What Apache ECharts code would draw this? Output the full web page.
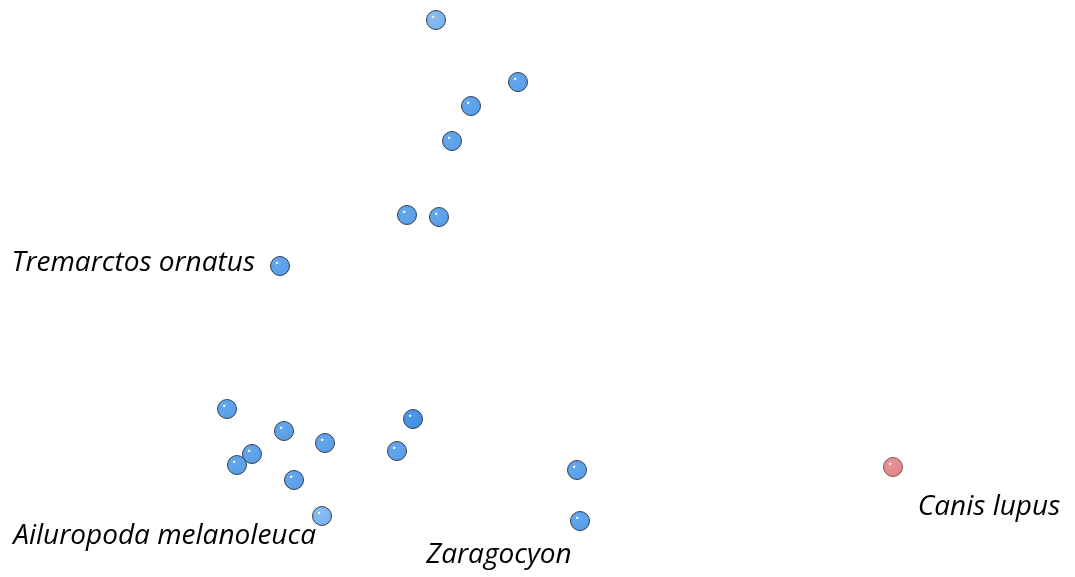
<!DOCTYPE html>
<html>
<head>
<meta charset="utf-8">
<style>
  html, body { margin: 0; padding: 0; background: #fff; }
  #main { width: 1075px; height: 577px; }
</style>
<script src="https://cdn.jsdelivr.net/npm/echarts@6/dist/echarts.min.js"></script>
</head>
<body>
<div id="main"></div>
<script>
// 散点图 - 物种分布（无坐标轴）
var pc1 = [436, 518, 471, 452, 407, 439, 280, 227, 284, 325, 413, 397, 252, 237, 294, 322, 577, 580];
var pc2 = [20, 82, 106, 141, 215, 217, 266, 409, 431, 443, 419, 451, 454, 465, 480, 516, 470, 521];
var names = ['', '', '', '', '', '', 'Tremarctos ornatus', '', '', '', '', '', '', '', '', 'Ailuropoda melanoleuca', '', 'Zaragocyon'];
var outPc1 = [893];
var outPc2 = [467];
var outNames = ['Canis lupus'];

(function () {
  var myChart = echarts.init(document.getElementById('main'));

  // 球形填充
  function ball(light, base, edge) {
    return new echarts.graphic.RadialGradient(0.36, 0.34, 0.75, [
      { offset: 0, color: '#ffffff' },
      { offset: 0.05, color: '#ffffff' },
      { offset: 0.1, color: light },
      { offset: 0.8, color: base },
      { offset: 1, color: edge }
    ]);
  }
  var blue = ball('#64a6ec', '#5a9fe8', '#4d8fd8');
  var paleBlue = ball('#88bbf0', '#7cb3ee', '#6aa2e0');
  var deepBlue = ball('#4c97e8', '#4290e4', '#357ccc');
  var pink = ball('#e89294', '#e4878a', '#d27376');

  // 标签位置
  var labelPos = {
    'Tremarctos ornatus': { position: 'left', distance: 15, offset: [0, -3] },
    'Ailuropoda melanoleuca': { position: [4, 30], align: 'right', verticalAlign: 'middle' },
    'Zaragocyon': { position: [-71, 44], align: 'center', verticalAlign: 'middle' },
    'Canis lupus': { position: [106, 50], align: 'center', verticalAlign: 'middle' }
  };
  var labelFont = {
    color: '#000',
    fontSize: 28,
    fontStyle: 'italic',
    fontFamily: 'Open Sans'
  };

  function build(xs, ys, ns, fill) {
    return xs.map(function (x, i) {
      var item = { value: [x, ys[i]], name: ns[i] };
      if (fill) {
        item.itemStyle = { color: fill(i) };
      }
      if (ns[i]) {
        item.label = Object.assign({ show: true, formatter: ns[i] }, labelFont, labelPos[ns[i]]);
      }
      return item;
    });
  }

  var option = {
    animation: false,
    grid: { left: 0, right: 0, top: 0, bottom: 0 },
    xAxis: { type: 'value', min: 0, max: 1075, show: false },
    yAxis: { type: 'value', min: 0, max: 577, inverse: true, show: false },
    series: [
      {
        type: 'scatter',
        symbolSize: 19,
        itemStyle: { borderColor: '#35404e', borderWidth: 1, opacity: 1 },
        data: build(pc1, pc2, names, function (i) {
          if (i === 0 || i === 15) return paleBlue;
          if (i === 10) return deepBlue;
          return blue;
        })
      },
      {
        type: 'scatter',
        symbolSize: 19,
        itemStyle: { color: pink, borderColor: '#7a5a5a', borderWidth: 1, opacity: 1 },
        data: build(outPc1, outPc2, outNames)
      }
    ]
  };

  myChart.setOption(option);
  window.addEventListener('resize', function () {
    myChart.resize();
  });
})();
</script>
</body>
</html>
